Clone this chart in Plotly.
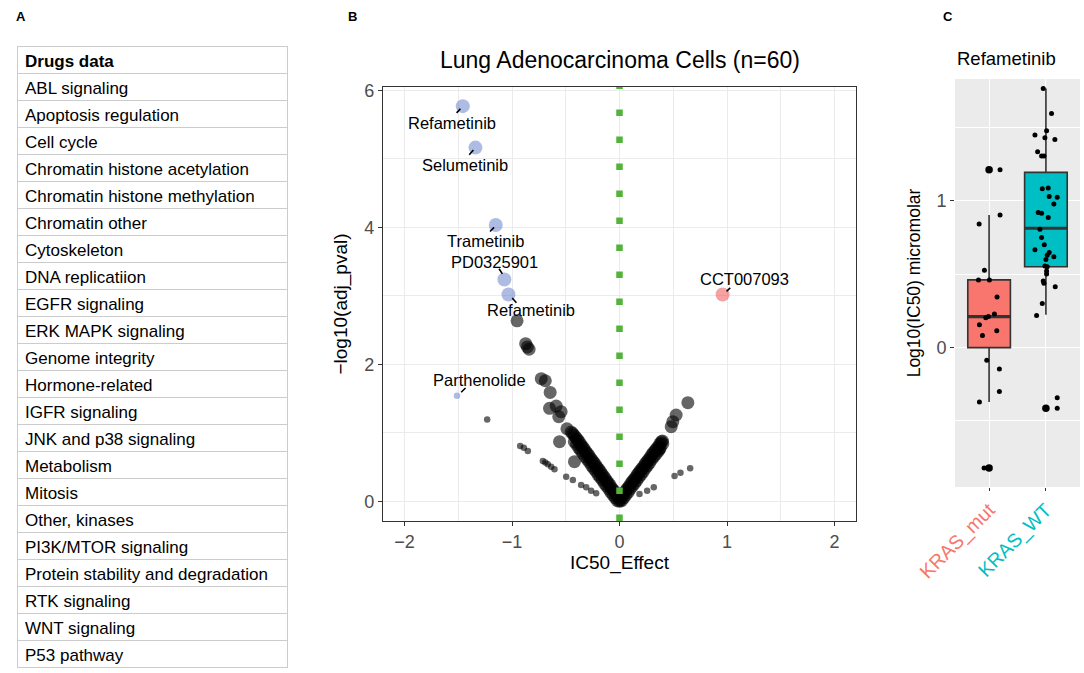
import plotly.graph_objects as go

W, H = 1084, 673
FONT = "Liberation Sans, Arial, sans-serif"

# ---------------- Panel A data ----------------
table_header = "Drugs data"
drug_classes = [
    "ABL signaling", "Apoptosis regulation", "Cell cycle",
    "Chromatin histone acetylation", "Chromatin histone methylation",
    "Chromatin other", "Cytoskeleton", "DNA replicatiion", "EGFR signaling",
    "ERK MAPK signaling", "Genome integrity", "Hormone-related",
    "IGFR signaling", "JNK and p38 signaling", "Metabolism", "Mitosis",
    "Other, kinases", "PI3K/MTOR signaling",
    "Protein stability and degradation", "RTK signaling", "WNT signaling",
    "P53 pathway",
]

# ---------------- Panel B data ----------------
# unlabelled drugs: IC50 effect, -log10(adj p)
big_effect = [-0.953, -0.873, -0.857, -0.841, -0.728, -0.690, -0.645, -0.651,
              -0.589, -0.543, -0.565, -0.558, -0.419, -0.489,
              0.636, 0.527, 0.496, 0.481, 0.403, 0.372]
big_logp = [2.636, 2.302, 2.254, 2.220, 1.790, 1.760, 1.590, 1.358,
            1.391, 1.308, 1.235, 0.870, 0.578, 1.059,
            1.440, 1.260, 1.162, 1.089, 0.840, 0.760]

small_effect = [-1.231, -0.924, -0.890, -0.853, -0.713, -0.690, -0.667,
                -0.636, -0.605, -0.496, -0.434, -0.357, -0.310, -0.264,
                -0.217, 0.657, 0.567, 0.512, 0.319, 0.257, 0.186]
small_logp = [1.195, 0.807, 0.780, 0.734, 0.588, 0.565, 0.540,
              0.505, 0.467, 0.359, 0.311, 0.238, 0.204, 0.155,
              0.117, 0.482, 0.418, 0.369, 0.204, 0.155, 0.107]

band_effect = [
    0.0, 0.005,
    -0.015, -0.03, -0.045, -0.06, -0.075, -0.09, -0.105, -0.12, -0.135,
    -0.15, -0.165, -0.18, -0.195, -0.21, -0.225, -0.24, -0.255, -0.27,
    -0.285, -0.30, -0.315, -0.33, -0.345, -0.36, -0.375, -0.39, -0.405,
    -0.42, -0.435, -0.45,
    -0.02, -0.04, -0.06, -0.08, -0.10, -0.12, -0.14, -0.16, -0.18, -0.20,
    -0.22, -0.24, -0.26, -0.28, -0.30, -0.32, -0.34, -0.36, -0.38, -0.40,
    -0.42,
    0.015, 0.03, 0.045, 0.06, 0.075, 0.09, 0.105, 0.12, 0.135, 0.15, 0.165,
    0.18, 0.195, 0.21, 0.225, 0.24, 0.255, 0.27, 0.285, 0.30, 0.315, 0.33,
    0.345, 0.36, 0.375, 0.39, 0.40,
    0.02, 0.04, 0.06, 0.08, 0.10, 0.12, 0.14, 0.16, 0.18, 0.20, 0.22, 0.24,
    0.26, 0.28, 0.30, 0.32, 0.34, 0.36, 0.38,
]
band_logp = [
    0.0, 0.02,
    0.07, 0.10, 0.14, 0.17, 0.20, 0.24, 0.27, 0.30, 0.34,
    0.37, 0.40, 0.44, 0.47, 0.50, 0.54, 0.57, 0.60, 0.63,
    0.67, 0.70, 0.73, 0.77, 0.80, 0.83, 0.87, 0.90, 0.93,
    0.96, 0.99, 1.01,
    0.01, 0.05, 0.09, 0.13, 0.18, 0.22, 0.26, 0.31, 0.35, 0.39,
    0.44, 0.48, 0.52, 0.57, 0.61, 0.65, 0.70, 0.74, 0.78, 0.83,
    0.87,
    0.06, 0.09, 0.13, 0.16, 0.19, 0.22, 0.26, 0.29, 0.32, 0.35, 0.39,
    0.42, 0.45, 0.48, 0.51, 0.55, 0.58, 0.61, 0.64, 0.68, 0.71, 0.74,
    0.77, 0.80, 0.84, 0.87, 0.88,
    0.01, 0.05, 0.09, 0.13, 0.18, 0.22, 0.26, 0.30, 0.35, 0.39, 0.43, 0.48,
    0.52, 0.56, 0.61, 0.65, 0.69, 0.73, 0.78,
]

# labelled drugs
sens_names = ["Refametinib", "Selumetinib", "Trametinib", "PD0325901",
              "Refametinib", "Parthenolide"]
sens_effect = [-1.458, -1.340, -1.151, -1.071, -1.033, -1.512]
sens_logp = [5.770, 5.165, 4.034, 3.238, 3.019, 1.541]
sens_class = ["big", "big", "big", "big", "big", "small"]

res_names = ["CCT007093"]
res_effect = [0.959]
res_logp = [3.019]
res_class = ["big"]

# label layout (text centre, segment start, segment end) in data units
label_layout = [
    (-1.554, 5.52, -1.528, 5.650, -1.480, 5.733),
    (-1.439, 4.91, -1.410, 5.040, -1.359, 5.130),
    (-1.250, 3.80, -1.218, 3.917, -1.167, 4.000),
    (-1.167, 3.49, -1.129, 3.417, -1.090, 3.320),
    (-0.825, 2.80, -1.010, 2.990, -0.959, 2.898),
    (-1.298, 1.766, -1.487, 1.571, -1.432, 1.654),
]
res_label_layout = [(1.167, 3.24, 0.982, 3.044, 1.030, 3.117)]

# ---------------- Panel C data ----------------
groups = ["KRAS_mut", "KRAS_WT"]
group_colors = ["#F8766D", "#00BFC4"]
box_q1 = [0.000, 0.551]
box_median = [0.211, 0.813]
box_q3 = [0.461, 1.194]
box_lower = [-0.371, 0.223]
box_upper = [0.903, 1.765]
outliers_mut = [1.211, -0.820]
outliers_wt = [-0.413]

mut_vals = [1.211, 0.903, 0.842, 0.527, 0.461, 0.461, 0.345, 0.228, 0.204,
            0.211, 0.155, 0.114, 0.083, -0.087, -0.146, -0.299, -0.371,
            -0.820]
mut_jitter = [0.193, 0.193, -0.175, -0.082, -0.187, 0.006, 0.140, 0.094,
              -0.058, -0.012, -0.170, 0.135, -0.117, -0.041, 0.181, 0.181,
              -0.170, -0.088]
wt_vals = [1.765, 1.595, 1.478, 1.449, 1.430, 1.417, 1.335, 1.306, 1.306,
           1.083, 1.087, 1.029, 1.024, 0.978, 0.920, 0.915, 0.886, 0.806,
           0.750, 0.701, 0.667, 0.648, 0.629, 0.619, 0.600, 0.556, 0.551,
           0.522, 0.502, 0.454, 0.439, 0.415, 0.301, 0.218, -0.342, -0.413]
wt_jitter = [-0.047, 0.099, 0.012, -0.193, -0.018, 0.158, -0.146, -0.076,
             -0.035, -0.064, 0.041, 0.058, 0.199, 0.140, -0.135, -0.076,
             0.041, -0.105, -0.076, -0.029, -0.193, 0.058, 0.023, 0.140,
             0.000, -0.018, 0.023, 0.012, 0.012, -0.047, -0.035, 0.164,
             -0.064, -0.164, 0.199, 0.199]

# ---------------- figure ----------------
SIZE_PX = {"small": 6.5, "mid": 13, "big": 14}
GREY = "rgba(0,0,0,0.6)"

fig = go.Figure()

# Panel A table
fig.add_trace(go.Table(
    domain=dict(x=[17 / W, 287 / W], y=[0, 1 - 46 / H]),
    header=dict(values=[table_header], align="left",
                height=27,
                font=dict(family=FONT, size=17, color="black", weight="bold"),
                line=dict(color="#CCCCCC", width=1),
                fill=dict(color="white")),
    cells=dict(values=[drug_classes], align="left", height=27,
               font=dict(family=FONT, size=17, color="black"),
               line=dict(color="#CCCCCC", width=1),
               fill=dict(color="white")),
))

# Panel B volcano
for xs, ys, cls in [(big_effect, big_logp, "mid"),
                    (small_effect, small_logp, "small"),
                    (band_effect, band_logp, "mid")]:
    fig.add_trace(go.Scatter(
        x=xs, y=ys, mode="markers", xaxis="x", yaxis="y",
        marker=dict(color=GREY, size=SIZE_PX[cls], line=dict(width=0)),
        showlegend=False, hoverinfo="skip"))
fig.add_trace(go.Scatter(
    x=sens_effect, y=sens_logp, mode="markers", xaxis="x", yaxis="y",
    marker=dict(color="rgba(110,135,205,0.8)",
                size=[SIZE_PX[c] for c in sens_class], line=dict(width=0)),
    showlegend=False))
fig.add_trace(go.Scatter(
    x=res_effect, y=res_logp, mode="markers", xaxis="x", yaxis="y",
    marker=dict(color="rgba(240,90,90,0.8)",
                size=[SIZE_PX[c] for c in res_class], line=dict(width=0)),
    showlegend=False))

annotations = []
for name, lay in zip(sens_names + res_names, label_layout + res_label_layout):
    lx, ly, sx0, sy0, sx1, sy1 = lay
    annotations.append(dict(x=lx, y=ly, xref="x", yref="y", text=name,
                            showarrow=False, xanchor="center",
                            yanchor="middle",
                            font=dict(family=FONT, size=16.5, color="black")))
    annotations.append(dict(x=sx1, y=sy1, ax=sx0, ay=sy0, xref="x", yref="y",
                            axref="x", ayref="y", text="", showarrow=True,
                            arrowhead=0, arrowwidth=1.6, arrowcolor="black",
                            standoff=0, startstandoff=0))

# Panel C box plot
for i, g in enumerate(groups):
    fig.add_trace(go.Box(
        x=[i + 1], q1=[box_q1[i]], median=[box_median[i]], q3=[box_q3[i]],
        lowerfence=[box_lower[i]], upperfence=[box_upper[i]],
        xaxis="x2", yaxis="y2", fillcolor=group_colors[i],
        line=dict(color="#333333", width=1.6), width=0.75, whiskerwidth=0,
        boxpoints=False, showlegend=False, name=g))
    fig.add_trace(go.Scatter(
        x=[i + 1 - 0.375, i + 1 + 0.375], y=[box_median[i], box_median[i]],
        mode="lines", xaxis="x2", yaxis="y2",
        line=dict(color="#333333", width=3.2), showlegend=False,
        hoverinfo="skip"))

fig.add_trace(go.Scatter(
    x=[1] * len(outliers_mut) + [2] * len(outliers_wt),
    y=outliers_mut + outliers_wt, mode="markers", xaxis="x2", yaxis="y2",
    marker=dict(color="black", size=7.5), showlegend=False))
fig.add_trace(go.Scatter(
    x=[1 + j for j in mut_jitter] + [2 + j for j in wt_jitter],
    y=mut_vals + wt_vals, mode="markers", xaxis="x2", yaxis="y2",
    marker=dict(color="black", size=5), showlegend=False))

# panel letters and titles
for letter, px in [("A", 21), ("B", 352), ("C", 948)]:
    annotations.append(dict(x=px / W, y=1 - 16 / H, xref="paper", yref="paper",
                            text="<b>%s</b>" % letter, showarrow=False,
                            xanchor="center", yanchor="middle",
                            font=dict(family=FONT, size=13, color="black")))
annotations.append(dict(x=(383 + 856) / 2 / W, y=1 - 60 / H, xref="paper",
                        yref="paper", text="Lung Adenocarcinoma Cells (n=60)",
                        showarrow=False, xanchor="center", yanchor="middle",
                        font=dict(family=FONT, size=23, color="black")))
annotations.append(dict(x=955 / W, y=1 - 58 / H, xref="paper", yref="paper",
                        text="Refametinib", showarrow=False, xanchor="left",
                        yanchor="middle",
                        font=dict(family=FONT, size=18.5, color="black")))

shapes = [
    dict(type="rect", xref="x2 domain", yref="y2 domain", x0=0, x1=1, y0=0,
         y1=1, fillcolor="#EBEBEB", line=dict(width=0), layer="below"),
    dict(type="line", xref="x", yref="y domain", x0=0, x1=0, y0=0, y1=1,
         line=dict(color="#53B33A", width=6.5, dash="6.5px,20.5px"),
         layer="above"),
]

tickfont = dict(family=FONT, size=18, color="#4D4D4D")
titlefont = dict(family=FONT, size=19, color="black")
GRID = "#EBEBEB"

fig.update_layout(
    template="none",
    width=W, height=H, margin=dict(l=0, r=0, t=0, b=0, pad=0),
    paper_bgcolor="white", plot_bgcolor="rgba(0,0,0,0)",
    showlegend=False, annotations=annotations, shapes=shapes,
    xaxis=dict(domain=[383 / W, 856 / W], range=[-2.2, 2.2],
               tickvals=[-2, -1, 0, 1, 2], showgrid=True,
               gridcolor=GRID, gridwidth=1.4,
               minor=dict(dtick=0.5, showgrid=True, gridcolor=GRID,
                          gridwidth=1.1, ticks=""),
               zeroline=False, showline=True, mirror=True,
               linecolor="#333333", linewidth=1.3, ticks="outside",
               ticklen=4, tickcolor="#333333", tickwidth=1.1,
               tickfont=tickfont, anchor="y", automargin=False,
               title=dict(text="IC50_Effect", font=titlefont, standoff=4)),
    yaxis=dict(domain=[1 - 521 / H, 1 - 87 / H], range=[-0.288, 6.05],
               tickvals=[0, 2, 4, 6], showgrid=True, gridcolor=GRID,
               gridwidth=1.4,
               minor=dict(dtick=1, showgrid=True, gridcolor=GRID,
                          gridwidth=1.1, ticks=""),
               zeroline=False, showline=True, mirror=True,
               linecolor="#333333", linewidth=1.3, ticks="outside",
               ticklen=4, tickcolor="#333333", tickwidth=1.1,
               tickfont=tickfont, anchor="x", automargin=False,
               title=dict(text="−log10(adj_pval)", font=titlefont,
                          standoff=11)),
    xaxis2=dict(domain=[955 / W, 1080 / W], range=[0.4, 2.6],
                tickvals=[1, 2],
                ticktext=["<span style='color:%s'>%s</span>"
                          % (c, g) for g, c in zip(groups, group_colors)],
                tickangle=-45, showgrid=True, gridcolor="white",
                gridwidth=1.4, zeroline=False, showline=False,
                ticks="outside", ticklen=3, tickcolor="#333333",
                tickwidth=1.1, anchor="y2", automargin=False,
                tickfont=dict(family=FONT, size=19.5)),
    yaxis2=dict(domain=[1 - 487 / H, 1 - 79 / H], range=[-0.95, 1.83],
                tickvals=[0, 1], showgrid=True, gridcolor="white",
                gridwidth=1.4,
                minor=dict(dtick=0.5, showgrid=True, gridcolor="white",
                           gridwidth=1.1, ticks=""),
                zeroline=False, showline=False, ticks="outside", ticklen=4,
                tickcolor="#333333", tickwidth=1.1, tickfont=tickfont,
                anchor="x2", automargin=False,
                title=dict(text="Log10(IC50) micromolar",
                           font=dict(family=FONT, size=17.5, color="black"),
                           standoff=11)),
)

fig.write_html("out.html",
               config={"displayModeBar": False},
               post_script="document.body.style.margin='0px';")
